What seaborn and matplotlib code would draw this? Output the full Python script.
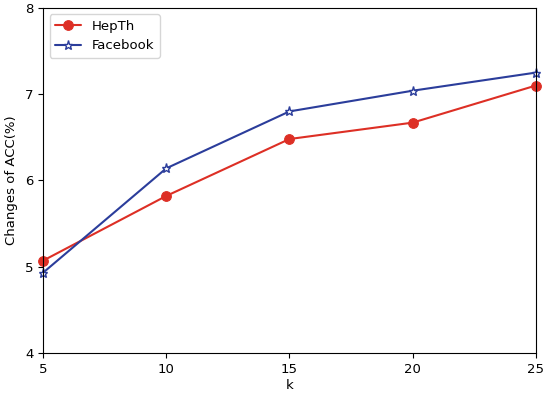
import matplotlib
matplotlib.use('Agg')
import matplotlib.pyplot as plt
import seaborn as sns

k = [5, 10, 15, 20, 25]
hepth = [5.07, 5.82, 6.48, 6.67, 7.10]
facebook = [4.93, 6.14, 6.80, 7.04, 7.25]

red = '#dd2f25'
blue = '#2b3d9b'

sns.set_style('ticks')
plt.rcParams['font.family'] = ['DejaVu Sans']
plt.rcParams['font.size'] = 9.5
for key in ['text.color', 'axes.labelcolor', 'xtick.color', 'ytick.color', 'axes.edgecolor']:
    plt.rcParams[key] = 'black'

fig, ax = plt.subplots(figsize=(5.44, 3.94), dpi=100)
fig.subplots_adjust(left=0.079, right=0.985, top=0.980, bottom=0.104)

sns.lineplot(x=k, y=hepth, color=red, marker='o', markersize=7,
             markeredgecolor=red, linewidth=1.5, label='HepTh',
             ax=ax, clip_on=False)
sns.lineplot(x=k, y=facebook, color=blue, marker='*', markersize=6.5,
             markeredgecolor=blue, markerfacecolor='white',
             markeredgewidth=1.0, linewidth=1.5, label='Facebook',
             ax=ax, clip_on=False)

ax.set_xlim(5, 25)
ax.set_ylim(4, 8)
ax.set_xticks([5, 10, 15, 20, 25])
ax.set_yticks([4, 5, 6, 7, 8])
ax.tick_params(labelsize=9.5)
ax.set_xlabel('k', fontsize=9.5, labelpad=2)
ax.set_ylabel('Changes of ACC(%)', fontsize=9.5, labelpad=5)
ax.legend(loc='upper left', fontsize=9.5)

fig.savefig('out.png', dpi=100)
